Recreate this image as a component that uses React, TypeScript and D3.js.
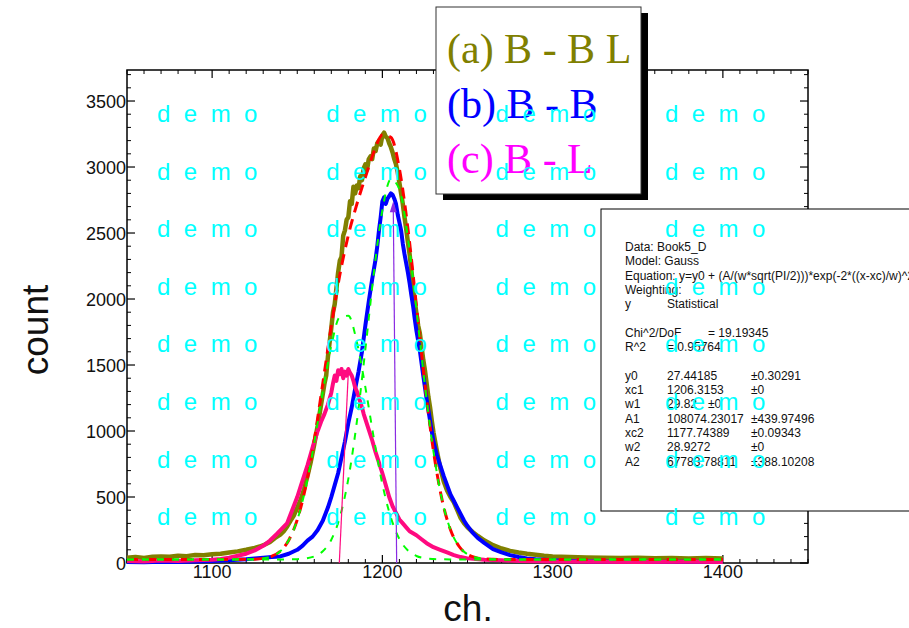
import React from 'react';
import * as d3 from 'd3';

// ---------- data ----------
const xTicks = [1100, 1200, 1300, 1400];
const yTicks = [0, 500, 1000, 1500, 2000, 2500, 3000, 3500];

// (a) B - B L  (olive)
const oliveCh = [1050,1055,1060,1065,1070,1075,1080,1085,1090,1095,1100,1105,1110,1115,1120,1125,1128,1131,1134,1137,1140,1142,1144,1146,1148,1150,1152,1154,1156,1158,1160,1162,1164,1166,1167,1168,1170,1171,1172,1173,1174,1175,1176,1177,1178,1179,1180,1181,1182,1183,1184,1185,1186,1187,1188,1189,1190,1191,1192,1193,1194,1195,1196,1197,1198,1199,1200,1201,1202,1203,1204,1205,1206,1207,1208,1209,1210,1211,1212,1213,1214,1215,1216,1217,1218,1219,1220,1221,1222,1223,1224,1225,1226,1227,1228,1229,1230,1232,1234,1236,1238,1240,1242,1244,1246,1248,1250,1253,1256,1260,1265,1270,1275,1280,1285,1290,1295,1300,1310,1320,1330,1340,1350,1360,1370,1380,1390,1400];
const oliveCount = [40,45,38,48,50,47,55,52,60,58,66,70,80,88,100,115,125,140,160,190,215,240,275,320,360,420,480,560,660,770,900,1040,1200,1360,1420,1560,1780,1900,1960,2080,2200,2290,2320,2480,2520,2600,2620,2740,2720,2850,2800,2860,2840,2930,2900,2990,3020,2980,3060,3080,3060,3140,3120,3180,3200,3170,3240,3260,3230,3220,3180,3150,3110,3060,3020,2960,2880,2800,2720,2620,2530,2430,2340,2220,2100,1990,1890,1800,1740,1640,1540,1460,1360,1260,1180,1080,990,850,720,620,550,500,460,400,340,300,270,235,205,170,135,110,92,80,70,62,55,50,45,42,40,38,40,36,38,35,37,35];

// (b) B - B  (blue)
const blueCh = [1050,1060,1070,1080,1090,1100,1110,1120,1125,1130,1135,1140,1145,1150,1153,1156,1159,1162,1165,1168,1170,1172,1174,1176,1178,1180,1182,1184,1186,1188,1190,1192,1194,1196,1197,1198,1199,1200,1201,1202,1203,1204,1205,1206,1207,1208,1209,1210,1211,1212,1213,1214,1215,1216,1217,1218,1219,1220,1222,1224,1226,1228,1230,1232,1234,1236,1238,1240,1242,1244,1246,1248,1250,1253,1256,1260,1265,1270,1275,1280,1285,1290,1300,1310,1320,1340,1360,1380,1400];
const blueCount = [8,5,10,8,12,15,20,28,35,40,45,50,70,100,130,170,200,250,320,420,500,590,680,800,920,1060,1180,1320,1450,1600,1800,1980,2150,2300,2400,2520,2620,2740,2770,2720,2760,2780,2800,2790,2760,2720,2640,2580,2520,2420,2340,2270,2200,2120,2030,1950,1850,1760,1610,1420,1240,1080,920,820,740,660,590,520,470,420,370,320,280,230,190,150,105,80,60,45,35,28,20,15,12,10,8,10,8];

// (c) B - L  (pink)
const pinkCh = [1050,1060,1070,1080,1090,1100,1105,1110,1115,1120,1125,1130,1134,1138,1141,1144,1147,1150,1152,1154,1156,1158,1160,1162,1164,1166,1168,1170,1171,1172,1173,1174,1175,1176,1177,1178,1179,1180,1181,1182,1183,1184,1185,1186,1187,1188,1189,1190,1192,1194,1196,1198,1200,1202,1204,1206,1208,1210,1212,1214,1216,1218,1220,1223,1226,1230,1234,1238,1242,1246,1250,1260,1270,1280,1300,1320,1350,1380,1400];
const pinkCount = [15,12,18,15,20,25,30,40,55,70,95,130,170,220,260,300,400,500,580,660,740,830,920,1000,1070,1130,1200,1290,1360,1420,1380,1460,1430,1470,1400,1450,1420,1470,1440,1420,1380,1330,1300,1260,1220,1180,1130,1090,1010,930,840,760,680,590,500,430,380,330,300,270,240,225,210,180,150,120,100,80,60,45,35,25,20,15,12,10,8,10,8];

// fit curves
const fitCh = [1050,1100,1120,1125,1130,1135,1140,1145,1150,1155,1160,1165,1170,1175,1180,1185,1190,1195,1200,1205,1210,1215,1220,1225,1230,1235,1240,1245,1250,1255,1260,1265,1270,1300,1400];
const fitSum = [27,27,28,29,35,51,89,173,328,581,933,1360,1796,2183,2483,2718,2923,3114,3243,3225,2986,2534,1950,1353,848,482,252,127,66,41,31,28,27,27,27];
const peak1 = [27,27,27,27,27,27,27,28,29,35,50,89,176,347,637,1070,1618,2197,2673,2908,2831,2466,1924,1344,845,481,252,127,66,41,31,28,27,27,27];
const peak2 = [27,27,28,29,35,51,89,172,326,573,910,1298,1647,1863,1873,1675,1332,944,597,344,182,95,53,36,30,28,27,27,27,27,27,27,27,27,27];

// annotation drop lines
const pinkDrop = { ch: [1174.7, 1180], count: [0, 1446] };
const purpleDrop = { ch: [1208.4, 1206.4], count: [0, 2740] };

const legendItems = ['(a) B - B L', '(b) B - B', '(c) B - L'];
const legendColors = ['#808000', '#0000FF', '#FF00FF'];

const fitLines: string[][] = [
  ['Data: Book5_D'],
  ['Model: Gauss'],
  ['Equation: y=y0 + (A/(w*sqrt(PI/2)))*exp(-2*((x-xc)/w)^2)'],
  ['Weighting:'],
  ['y', 'Statistical'],
  [],
  ['Chi^2/DoF', '', '= 19.19345'],
  ['R^2', '= 0.95764'],
  [],
  ['y0', '27.44185', '', '±0.30291'],
  ['xc1', '1206.3153', '', '±0'],
  ['w1', '29.82', '±0'],
  ['A1', '108074.23017', '', '±439.97496'],
  ['xc2', '1177.74389', '', '±0.09343'],
  ['w2', '28.9272', '', '±0'],
  ['A2', '67783.78811', '', '±388.10208'],
];

// ---------- layout ----------
const W = 909, H = 628;
const L = 127, R = 808, T = 70, B = 563;

export default function App() {
  const x = d3.scaleLinear().domain([1050, 1450]).range([L, R]);
  const y = d3.scaleLinear().domain([0, 3735]).range([B, T]);

  const mk = (ch: number[], v: number[], curve: any = d3.curveLinear) =>
    d3.line<number>().x((d) => x(d)).y((_, i) => y(v[i])).curve(curve)(ch) || '';

  const xMinor = d3.range(1050, 1451, 10).filter((v) => v % 100 !== 0);
  const yMinor = d3.range(0, 3736, 100).filter((v) => v % 500 !== 0);

  const tickCol = 'black';
  const font = 'Arial, "Liberation Sans", Helvetica, sans-serif';
  const serif = '"Times New Roman", "Liberation Serif", Times, serif';

  const arrowTipX = x(purpleDrop.ch[1]);
  const arrowTipY = y(purpleDrop.count[1]);

  const colX = [625, 667, 708, 751];

  return (
    <svg width={W} height={H} style={{ position: 'absolute', left: 0, top: 0, display: 'block' }}
      xmlns="http://www.w3.org/2000/svg">
      <rect x={0} y={0} width={W} height={H} fill="white" />

      {/* frame */}
      <rect x={L} y={T} width={R - L} height={B - T} fill="none" stroke="black" strokeWidth={1.5} />

      {/* ticks */}
      {xMinor.map((v) => (
        <g key={'xm' + v}>
          <line x1={x(v)} x2={x(v)} y1={B} y2={B - 4} stroke={tickCol} strokeWidth={1} />
          <line x1={x(v)} x2={x(v)} y1={T} y2={T + 4} stroke={tickCol} strokeWidth={1} />
        </g>
      ))}
      {xTicks.map((v) => (
        <g key={'xt' + v}>
          <line x1={x(v)} x2={x(v)} y1={B} y2={B - 8} stroke={tickCol} strokeWidth={1.2} />
          <line x1={x(v)} x2={x(v)} y1={T} y2={T + 8} stroke={tickCol} strokeWidth={1.2} />
          <text x={x(v)} y={B + 14.5} fontFamily={font} fontSize={18} textAnchor="middle" fill="#111">{v}</text>
        </g>
      ))}
      {yMinor.map((v) => (
        <g key={'ym' + v}>
          <line x1={L} x2={L + 4} y1={y(v)} y2={y(v)} stroke={tickCol} strokeWidth={1} />
          <line x1={R} x2={R - 4} y1={y(v)} y2={y(v)} stroke={tickCol} strokeWidth={1} />
        </g>
      ))}
      {yTicks.map((v) => (
        <g key={'yt' + v}>
          <line x1={L} x2={L + 8} y1={y(v)} y2={y(v)} stroke={tickCol} strokeWidth={1.2} />
          <line x1={R} x2={R - 8} y1={y(v)} y2={y(v)} stroke={tickCol} strokeWidth={1.2} />
          <text x={L - 1} y={y(v) + 6.5} fontFamily={font} fontSize={18} textAnchor="end" fill="#111">{v}</text>
        </g>
      ))}

      {/* data */}
      <path d={mk(oliveCh, oliveCount)} fill="none" stroke="#808000" strokeWidth={4.5} strokeLinejoin="round" />
      <path d={mk(blueCh, blueCount)} fill="none" stroke="#0000FF" strokeWidth={4} strokeLinejoin="round" />
      <path d={mk(pinkCh, pinkCount)} fill="none" stroke="#FF0A80" strokeWidth={4} strokeLinejoin="round" />

      {/* fits */}
      <path d={mk(fitCh, fitSum, d3.curveMonotoneX)} fill="none" stroke="#FF0000" strokeWidth={3} strokeDasharray="11 7" />
      <path d={mk(fitCh, peak1, d3.curveMonotoneX)} fill="none" stroke="#00FF00" strokeWidth={2} strokeDasharray="7 8" />
      <path d={mk(fitCh, peak2, d3.curveMonotoneX)} fill="none" stroke="#00FF00" strokeWidth={2} strokeDasharray="7 8" />

      {/* drop lines */}
      <line x1={x(pinkDrop.ch[0])} y1={y(pinkDrop.count[0])} x2={x(pinkDrop.ch[1])} y2={y(pinkDrop.count[1])}
        stroke="#FF0A80" strokeWidth={1.2} />
      <line x1={x(purpleDrop.ch[0])} y1={y(purpleDrop.count[0])} x2={arrowTipX} y2={arrowTipY + 6}
        stroke="#8A2BE2" strokeWidth={1.2} />
      <polygon points={`${arrowTipX},${arrowTipY} ${arrowTipX - 3.5},${arrowTipY + 11} ${arrowTipX + 3.5},${arrowTipY + 11}`}
        fill="#8A2BE2" />

      {/* axis titles */}
      <text x={468} y={621} fontFamily={font} fontSize={37} textAnchor="middle" fill="#111">ch.</text>
      <text transform="translate(48,330) rotate(-90)" fontFamily={font} fontSize={37} textAnchor="middle" fill="#111">count</text>

      {/* legend */}
      <rect x={443} y={13} width={205} height={187} fill="black" />
      <rect x={436} y={7} width={205} height={187} fill="white" stroke="#333" strokeWidth={1} />
      {legendItems.map((t, i) => (
        <text key={t} x={447} y={63 + i * 55} fontFamily={serif} fontSize={42} fill={legendColors[i]}
          style={{ whiteSpace: 'pre' }}>{t}</text>
      ))}

      {/* fit box */}
      <rect x={601} y={209} width={400} height={302} fill="white" stroke="black" strokeWidth={1} />
      {fitLines.map((row, i) => (
        <g key={'fl' + i}>
          {row.map((cell, j) => cell ? (
            <text key={j} x={i === 4 && j === 1 ? 667 : colX[j]} y={251 + i * 14.3} fontFamily={font} fontSize={12} fill="#111">{cell}</text>
          ) : null)}
        </g>
      ))}

      {/* watermark */}
      {d3.range(8).map((r) => d3.range(4).map((c) => (
        <text key={`wm${r}-${c}`} x={157 + c * 169.3} y={122 + r * 57.6} fontFamily={font} fontSize={24}
          fill="#00FFFF" letterSpacing={3.4} style={{ whiteSpace: 'pre' }}>d e m o</text>
      )))}
    </svg>
  );
}
